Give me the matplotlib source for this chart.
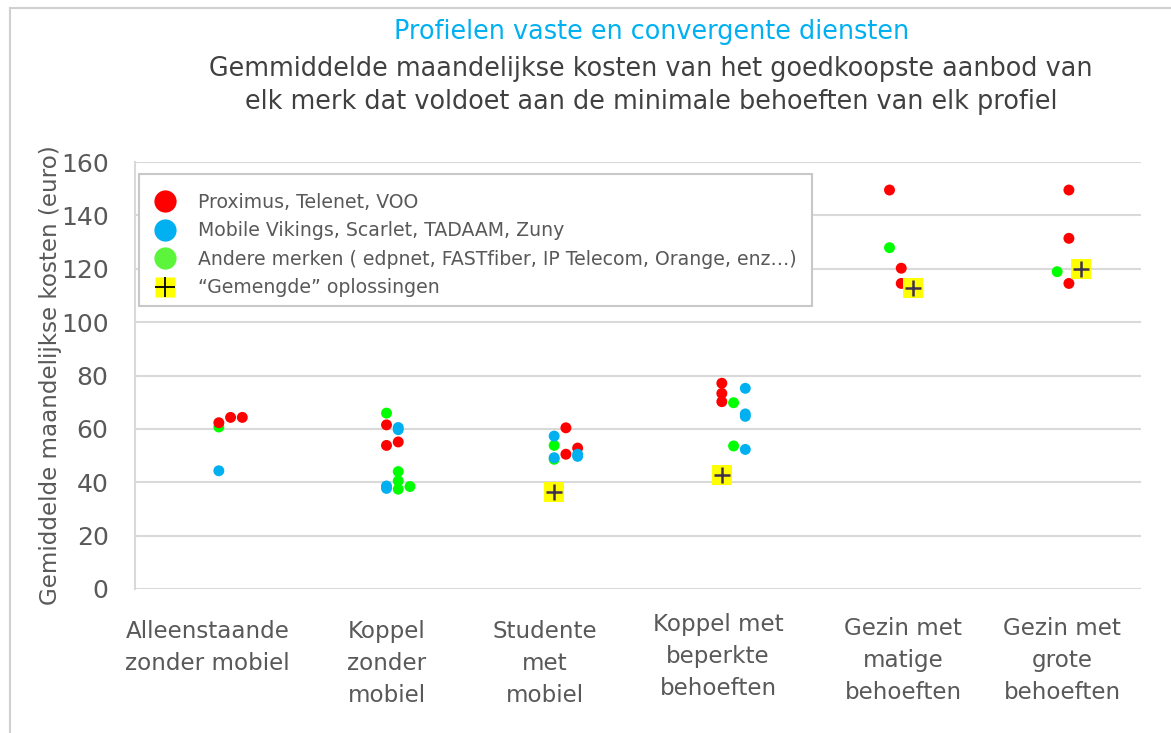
import matplotlib
matplotlib.use("Agg")
import matplotlib.pyplot as plt
from matplotlib.lines import Line2D
from matplotlib.patches import Rectangle
from matplotlib.transforms import ScaledTranslation
import numpy as np

# ---------------- data ----------------
categories = ["Alleenstaande\nzonder mobiel", "Koppel\nzonder\nmobiel", "Studente\nmet\nmobiel",
              "Koppel met\nbeperkte\nbehoeften", "Gezin met\nmatige\nbehoeften", "Gezin met\ngrote\nbehoeften"]
label_pos = [-0.066, 1.002, 1.945, 2.977, 4.081, 5.03]
label_shift_px = [0, 0, 0, 7, 3, 3]

# each point: category index, column (jitter slot) within category, value
red_cat = [0, 0, 0, 1, 1, 1, 2, 2, 2, 3, 3, 3, 4, 4, 4, 5, 5, 5]
red_col = [0, 1, 2, 0, 0, 1, 1, 1, 2, 0, 0, 0, 0, 1, 1, 1, 1, 1]
red_val = [62.3, 64.3, 64.3, 61.5, 53.8, 55.1, 60.4, 50.5, 52.8, 77.1, 73.3, 70.2,
           149.5, 120.2, 114.5, 149.5, 131.4, 114.5]

blue_cat = [0, 1, 1, 1, 1, 2, 2, 2, 2, 3, 3, 3, 3]
blue_col = [0, 1, 1, 0, 0, 0, 0, 2, 2, 2, 2, 2, 2]
blue_val = [44.3, 60.5, 59.7, 38.6, 37.7, 57.3, 49.2, 50.5, 49.7, 75.2, 65.6, 64.7, 52.3]

green_cat = [0, 1, 1, 1, 1, 1, 2, 2, 3, 3, 4, 5]
green_col = [0, 0, 1, 1, 1, 2, 0, 0, 1, 1, 0, 0]
green_val = [60.7, 65.9, 44.0, 40.5, 37.4, 38.4, 53.8, 48.6, 69.8, 53.6, 127.9, 118.9]

mixed_cat = [2, 3, 4, 5]
mixed_col = [0, 0, 2, 2]
mixed_val = [36.5, 42.6, 112.9, 119.8]

series_names = ["Proximus, Telenet, VOO",
                "Mobile Vikings, Scarlet, TADAAM, Zuny",
                "Andere merken ( edpnet, FASTfiber, IP Telecom, Orange, enz\u2026)",
                "\u201cGemengde\u201d oplossingen"]

title1 = "Profielen vaste en convergente diensten"
title2 = ("Gemmiddelde maandelijkse kosten van het goedkoopste aanbod van\n"
          "elk merk dat voldoet aan de minimale behoeften van elk profiel")
ylabel = "Gemiddelde maandelijkse kosten (euro)"
yticks = [0, 20, 40, 60, 80, 100, 120, 140, 160]

# ---------------- style ----------------
RED = "#FF0000"
BLUE = "#00B0F0"
GREEN = "#00FF00"
YELLOW = "#FFFF00"
CROSS = "#3F3050"
GRAY_TXT = "#595959"
GRID = "#D9D9D9"
SLOT = 0.07

def xs(cat, col):
    return np.array(cat) + SLOT * np.array(col)

W, H = 1171, 733
AX_L, AX_R, AX_T, AX_B = 135, 1141, 162, 589
fig = plt.figure(figsize=(W / 100, H / 100), dpi=100)
ax = fig.add_axes([AX_L / W, 1 - AX_B / H, (AX_R - AX_L) / W, (AX_B - AX_T) / H])

S = 62
ax.scatter(xs(green_cat, green_col), green_val, s=S, color=GREEN, edgecolors="none", zorder=3)
ax.scatter(xs(red_cat, red_col), red_val, s=S, color=RED, edgecolors="none", zorder=3)
ax.scatter(xs(blue_cat, blue_col), blue_val, s=S, color=BLUE, edgecolors="none", zorder=3)
ax.scatter(xs(mixed_cat, mixed_col), mixed_val, s=205, marker="s", color=YELLOW,
           edgecolors="none", zorder=4)
ax.scatter(xs(mixed_cat, mixed_col), mixed_val, s=130, marker="+", color=CROSS,
           linewidths=1.8, zorder=5)

ax.set_xlim(-0.5, 5.5)
ax.set_ylim(0, 160)
ax.grid(axis="y", color=GRID, linewidth=1.5, zorder=0)
ax.set_axisbelow(True)
for side in ["top", "right", "bottom"]:
    ax.spines[side].set_visible(False)
ax.spines["left"].set_color(GRID)
ax.spines["left"].set_linewidth(1.5)

ax.set_yticks(yticks)
ax.set_yticklabels([str(v) for v in yticks], fontsize=18, color=GRAY_TXT)
ax.set_xticks(label_pos)
ax.set_xticklabels(categories, fontsize=16.6, color=GRAY_TXT, linespacing=1.5, va="top")
ax.yaxis.set_tick_params(length=0, pad=19)
ax.xaxis.set_tick_params(length=0, pad=22)
for tick in ax.yaxis.get_major_ticks():
    tick.set_pad(19)
for lbl, sh in zip(ax.get_xticklabels(), label_shift_px):
    if sh:
        lbl.set_transform(lbl.get_transform() + ScaledTranslation(0, sh / 100, fig.dpi_scale_trans))

ax.set_ylabel(ylabel, fontsize=16.6, color=GRAY_TXT)
ax.yaxis.set_label_coords((62 - AX_L) / (AX_R - AX_L), 0.5)

# titles
fig.text(652 / W, 1 - 32 / H, title1, ha="center", va="center", fontsize=18.4, color=BLUE)
fig.text(651 / W, 1 - 85.5 / H, title2, ha="center", va="center", fontsize=18.4,
         color="#404040", linespacing=1.36)

# legend
handles = [
    Line2D([], [], marker="o", linestyle="none", markersize=16, markerfacecolor=RED, markeredgecolor="none"),
    Line2D([], [], marker="o", linestyle="none", markersize=16, markerfacecolor=BLUE, markeredgecolor="none"),
    Line2D([], [], marker="o", linestyle="none", markersize=16, markerfacecolor="#5CF53C", markeredgecolor="none"),
    (Line2D([], [], marker="s", linestyle="none", markersize=15, markerfacecolor=YELLOW, markeredgecolor="none"),
     Line2D([], [], marker="+", linestyle="none", markersize=15, markeredgecolor="black", markeredgewidth=1.3)),
]
box = Rectangle((139 / W, 1 - 306 / H), (812 - 139) / W, (306 - 174) / H,
                transform=fig.transFigure, facecolor="white", edgecolor="#C8C8C8",
                linewidth=1.5, zorder=5.5, clip_on=False)
ax.add_artist(box)
leg = ax.legend(handles, series_names, loc="upper left",
                bbox_to_anchor=(155 / W, 1 - 193 / H), bbox_transform=fig.transFigure,
                borderaxespad=0, fontsize=13.6, frameon=False,
                labelspacing=0.5, handletextpad=1.15, borderpad=0, handlelength=1.1)
leg.set_zorder(7)
for t in leg.get_texts():
    t.set_color(GRAY_TXT)

# chart border (left and top)
fig.add_artist(Line2D([10 / W, 10 / W], [0, 1 - 8 / H], transform=fig.transFigure, color="#D0D0D0", lw=1.5))
fig.add_artist(Line2D([10 / W, 1], [1 - 8 / H, 1 - 8 / H], transform=fig.transFigure, color="#D0D0D0", lw=1.5))

fig.savefig("out.png", dpi=100)
